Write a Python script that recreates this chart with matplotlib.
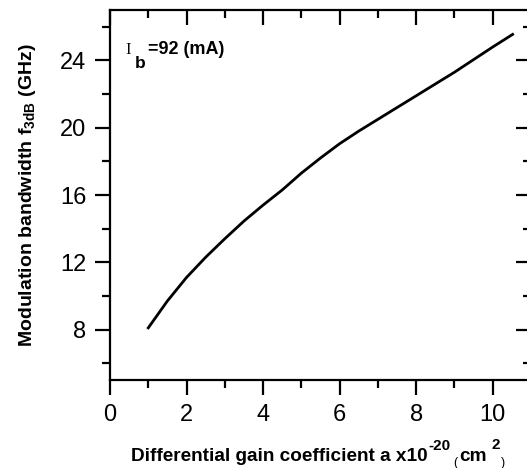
import matplotlib.pyplot as plt
from matplotlib.ticker import MultipleLocator

# gain coefficient (x1e-20 cm^2) vs modulation bandwidth (GHz)
gain = [1.0, 1.5, 2.0, 2.5, 3.0, 3.5, 4.0, 4.5, 5.0, 5.5, 6.0, 6.5, 7.0, 7.5, 8.0, 9.0, 10.0, 10.52]
f3db = [8.1, 9.7, 11.1, 12.3, 13.4, 14.45, 15.4, 16.3, 17.3, 18.2, 19.05, 19.8, 20.5, 21.2, 21.9, 23.3, 24.8, 25.55]
note = "=92 (mA)"

plt.rcParams['font.family'] = ['Liberation Sans', 'DejaVu Sans']
plt.rcParams['mathtext.fontset'] = 'custom'
plt.rcParams['mathtext.rm'] = 'Liberation Sans'
plt.rcParams['mathtext.bf'] = 'Liberation Sans:bold'
plt.rcParams['mathtext.it'] = 'Liberation Sans:italic'

W, H = 527, 468
fig = plt.figure(figsize=(W/100, H/100), dpi=100)
ax = fig.add_axes([110/W, 1 - 380/H, 421/W, 370/H])

ax.plot(gain, f3db, color='black', lw=2.0)

ax.set_xlim(0, 11)
ax.set_ylim(5, 27)
ax.xaxis.set_major_locator(MultipleLocator(2))
ax.xaxis.set_minor_locator(MultipleLocator(1))
ax.yaxis.set_minor_locator(MultipleLocator(2))
ax.set_yticks([8, 12, 16, 20, 24])

for s in ax.spines.values():
    s.set_linewidth(1.6)

ax.tick_params(axis='both', which='both', width=1.6, labelsize=17, pad=6)
ax.tick_params(axis='both', which='major', length=11)
ax.tick_params(axis='both', which='minor', length=6)
ax.tick_params(axis='x', which='both', top=True, direction='out')
ax.tick_params(axis='y', which='both', right=True, direction='out')
# top and right ticks point inward
for t in ax.xaxis.get_major_ticks() + ax.xaxis.get_minor_ticks():
    t.tick2line.set_marker(3)
for t in ax.yaxis.get_major_ticks() + ax.yaxis.get_minor_ticks():
    t.tick2line.set_marker(0)

ax.set_ylabel(r"Modulation bandwidth $\mathbf{f}_{\mathbf{3dB}}$ (GHz)",
              fontsize=14, fontweight='bold', labelpad=16)

# x label built from pieces so the super/subscripts can be sized freely
pieces = [("Differential gain coefficient a x10", 461, 13.7, 'bold', 0),
          ("-20", 450, 11, 'bold', 1),
          ("(", 466, 9, 'normal', 3),
          ("cm", 461, 13.7, 'bold', 1),
          ("2", 449, 11, 'bold', 5),
          (")", 466, 9, 'normal', 1)]
r = fig.canvas.get_renderer()
xpos = 131
for s, base, size, wt, gap in pieces:
    xpos += gap
    t = fig.text(xpos/W, 1 - base/H, s, fontsize=size, fontweight=wt,
                 ha='left', va='baseline')
    xpos = t.get_window_extent(r).x1

ax.text(0.39, 24.36, "I", fontsize=12, family='Liberation Serif', va='baseline')
ax.text(0.64, 23.58, "b", fontsize=12.5, fontweight='bold', va='baseline')
ax.text(0.99, 24.36, note, fontsize=13, fontweight='bold', va='baseline')

fig.savefig("out.png", dpi=100)
